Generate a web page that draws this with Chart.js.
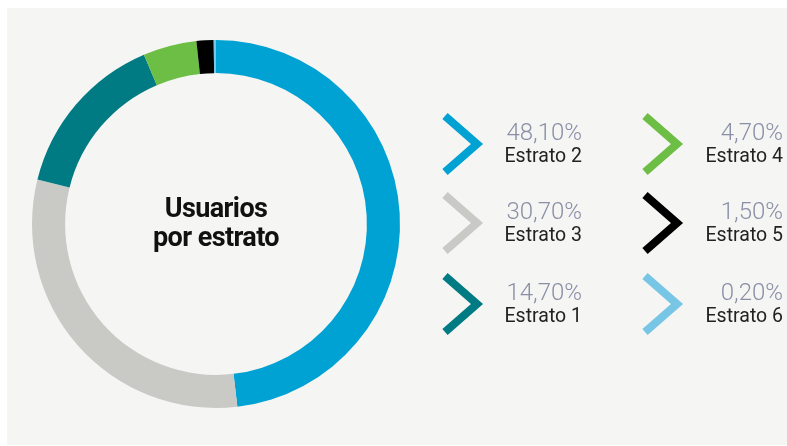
<!DOCTYPE html>
<html>
<head>
<meta charset="utf-8">
<script src="https://cdn.jsdelivr.net/npm/chart.js@4.4.1/dist/chart.umd.min.js"></script>
<style>
  html, body { margin: 0; padding: 0; background: #ffffff; }
  #wrap { position: relative; width: 787px; height: 446px; }
</style>
</head>
<body>
<div id="wrap"><canvas id="estratos"></canvas></div>
<script>
// datos: usuarios por estrato (orden de la dona, en sentido horario desde arriba)
const labels  = ['Estrato 2', 'Estrato 3', 'Estrato 1', 'Estrato 4', 'Estrato 5', 'Estrato 6'];
const valores = [48.1, 30.7, 14.7, 4.7, 1.5, 0.2];
const colores = ['#00a1d3', '#c9cac5', '#007b84', '#6dbe45', '#000000', '#78c6e6'];
const titulo  = ['Usuarios', 'por estrato'];

const fmtPct = v => v.toFixed(2).replace('.', ',') + '%';

// ── fondo del panel ─────────────────────────────────────
const panelBg = {
    id: 'panelBg',
    beforeDraw(chart) {
        const { ctx } = chart;
        ctx.save();
        ctx.fillStyle = '#f5f5f3';
        ctx.fillRect(7, 8, 780, 437);
        ctx.restore();
    },
};

// ── texto central ──────────────────────────────────────
const centerText = {
    id: 'centerText',
    afterDraw(chart) {
        const { ctx } = chart;
        const meta = chart.getDatasetMeta(0).data[0];
        if (!meta) return;
        ctx.save();
        ctx.fillStyle = '#111111';
        ctx.textAlign = 'center';
        ctx.textBaseline = 'alphabetic';
        ctx.font = 'bold 27px Roboto';
        if ('letterSpacing' in ctx) ctx.letterSpacing = '-0.6px';
        ctx.fillText(titulo[0], meta.x, 217);
        ctx.fillText(titulo[1], meta.x, 246);
        ctx.restore();
    },
};

// ── leyenda con chevrones ──────────────────────────────
const chevronLegend = {
    id: 'chevronLegend',
    afterDraw(chart) {
        const { ctx } = chart;
        const ds = chart.data.datasets[0];
        const cols = [{ left: 441, right: 582 }, { left: 641, right: 783 }];
        const rows = [144, 223, 304];
        chart.data.labels.forEach((lab, i) => {
            const col = cols[Math.floor(i / 3)];
            const cy = rows[i % 3];
            const L = col.left;

            ctx.save();
            ctx.strokeStyle = ds.backgroundColor[i];
            ctx.lineWidth = 8;
            ctx.lineJoin = 'miter';
            ctx.lineCap = 'butt';
            ctx.beginPath();
            ctx.moveTo(L + 4, cy - 28);
            ctx.lineTo(L + 36, cy);
            ctx.lineTo(L + 4, cy + 28);
            ctx.stroke();

            ctx.textAlign = 'right';
            ctx.textBaseline = 'alphabetic';
            ctx.fillStyle = '#8a8fa6';
            ctx.font = '300 24px Roboto';
            ctx.fillText(fmtPct(ds.data[i]), col.right, cy - 4);
            ctx.fillStyle = '#222222';
            ctx.font = '19.5px Roboto';
            ctx.fillText(lab, col.right, cy + 18);
            ctx.restore();
        });
    },
};

function build() {
    new Chart(document.getElementById('estratos'), {
        type: 'doughnut',
        data: {
            labels: labels,
            datasets: [{
                data: valores,
                backgroundColor: colores,
                borderWidth: 0,
            }],
        },
        options: {
            responsive: true, maintainAspectRatio: false,
            animation: false,
            cutout: '82%',
            layout: { padding: { left: 32, right: 387, top: 40, bottom: 38 } },
            plugins: {
                legend: { display: false },
                tooltip: { enabled: false },
            },
        },
        plugins: [panelBg, centerText, chevronLegend],
    });
}

Promise.all([
    document.fonts.load('bold 27px Roboto'),
    document.fonts.load('300 24px Roboto'),
    document.fonts.load('19.5px Roboto'),
]).then(build, build);
</script>
</body>
</html>
